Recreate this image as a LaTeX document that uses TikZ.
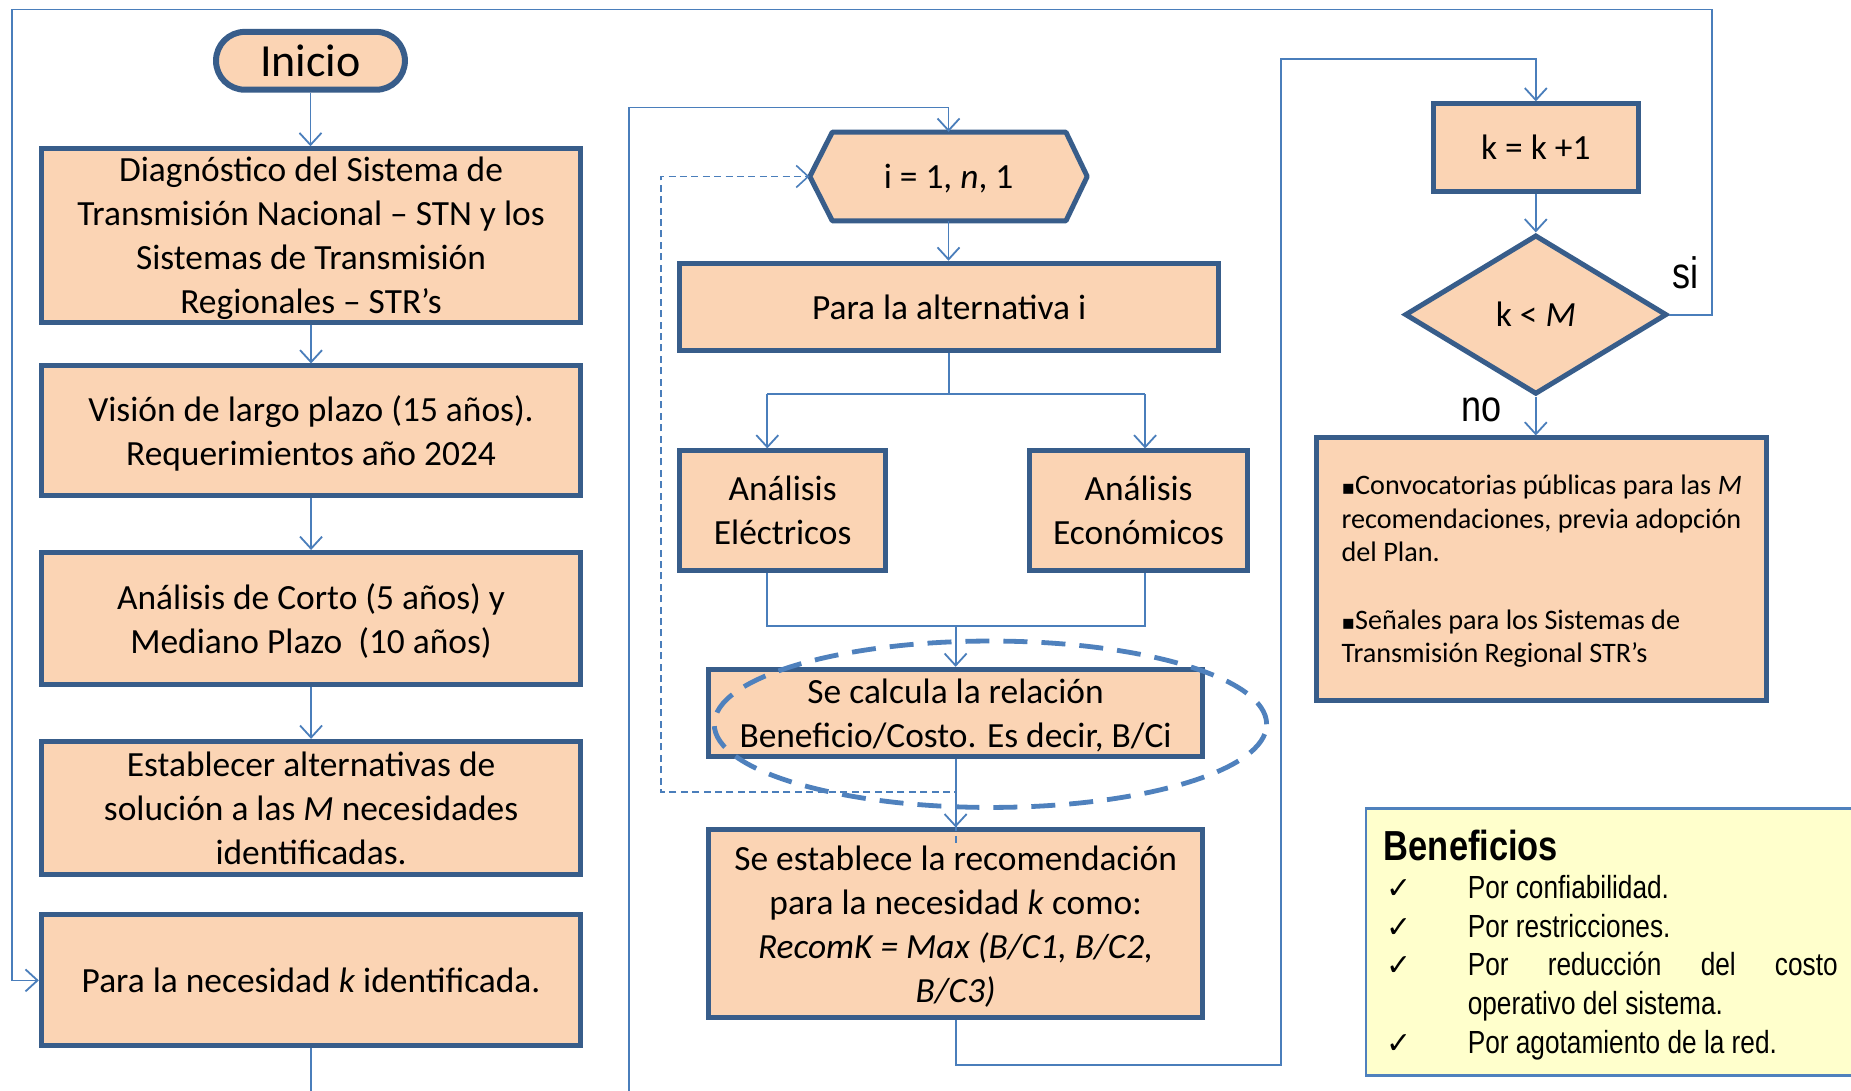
\documentclass[tikz,border=0pt]{standalone}
\usepackage{fontspec}
\setmainfont{Carlito}
\newfontfamily\narrowfont[FakeStretch=0.82]{Liberation Sans}
\newfontfamily\symfont{DejaVu Sans}
\usetikzlibrary{arrows.meta,shapes.geometric}
\definecolor{boxfill}{HTML}{FBD4B4}
\definecolor{boxline}{HTML}{385D8A}
\definecolor{lnkcol}{HTML}{4A7EBB}
\definecolor{ellcol}{HTML}{4F81BD}
\definecolor{benfill}{HTML}{FFFFCC}
\def\pxu{0.59025pt}
\tikzset{
  sz/.style 2 args={minimum width=#1*\pxu, minimum height=#2*\pxu},
  box/.style={draw=boxline, line width=2.5pt, fill=boxfill, inner sep=0pt, align=center,
              text depth=0pt, font=\fontsize{17.7}{22}\selectfont},
  ghost/.style={inner sep=0pt, align=center, text depth=0pt, font=\fontsize{17.7}{22}\selectfont},
  shapeline/.style={draw=boxline, line width=2.5pt, fill=boxfill, line join=round},
  lnk/.style={draw=lnkcol, line width=0.9pt},
  arr/.style={lnk, -{Straight Barb[length=6pt,width=11pt]}},
  dashlnk/.style={draw=lnkcol, line width=0.8pt, dash pattern=on 3.5pt off 2.2pt,
                  -{Straight Barb[length=6pt,width=11pt]}},
  lbl/.style={inner sep=0pt, font=\narrowfont\fontsize{22}{26}\selectfont},
  bentxt/.style={inner sep=0pt, anchor=base west, font=\narrowfont\fontsize{16}{19}\selectfont},
  benchk/.style={inner sep=0pt, anchor=base west, font=\symfont\fontsize{15}{18}\selectfont},
}
\newcommand\sqbul{{\symfont\fontsize{10}{12}\selectfont ▪}}
\begin{document}
\begin{tikzpicture}[x=0.59025pt,y=-0.59025pt]
\useasboundingbox (0,0) rectangle (1568,924);
\fill[white] (0,0) rectangle (1568,924);

% ---------- left column ----------
\node[draw=boxline, line width=3pt, fill=boxfill, rounded corners=14.4pt, inner sep=0pt,
      sz={160}{49}, font=\fontsize{23}{27}\selectfont] (inicio) at (263,51.5) {Inicio};
\node[box, sz={457}{147}] (b1) at (263.5,199.5)
  {Diagnóstico del Sistema de\\Transmisión Nacional – STN y los\\Sistemas de Transmisión\\Regionales – STR’s};
\node[box, sz={457}{110}] (b2) at (263.5,365)
  {Visión de largo plazo (15 años).\\Requerimientos año 2024};
\node[box, sz={457}{112}] (b3) at (263.5,524)
  {Análisis de Corto (5 años) y\\Mediano Plazo\ \ (10 años)};
\node[box, sz={457}{113}] (b4) at (263.5,684.5)
  {Establecer alternativas de\\solución a las \textit{M} necesidades\\identificadas.};
\node[box, sz={457}{111}] (b5) at (263.5,830.5)
  {Para la necesidad \textit{k} identificada.};

% ---------- middle column ----------
\path[shapeline] (686,149.5) -- (705,112) -- (903,112) -- (921,149.5) -- (903,187) -- (705,187) -- cycle;
\node[ghost, sz={235}{75}] (hex) at (803.5,149.5) {i = 1, \textit{n}, 1};
\node[box, sz={456}{74}] (pa) at (804,260) {Para la alternativa i};
\node[box, sz={174}{101}] (ae) at (663,432.5) {Análisis\\Eléctricos};
\node[box, sz={185}{101}] (aec) at (964.5,432.5) {Análisis\\Económicos};
\node[box, sz={419}{74}] (calc) at (809.5,604)
  {Se calcula la relación\\Beneficio/Costo. Es decir, B/Ci};
\node[box, sz={419}{159}] (est) at (809.5,782.5)
  {Se establece la recomendación\\para la necesidad \textit{k} como:\\\textit{RecomK = Max (B/C1, B/C2,}\\\textit{B/C3)}};

% ---------- right column ----------
\node[box, sz={174}{74}] (kk) at (1301,125) {k = k +1};
\node[box, diamond, sz={222}{135}] (dia) at (1301,266.5) {k < \textit{M}};
\node[box, sz={381}{222}, align=left, font=\fontsize{14.1}{16.8}\selectfont] (fin) at (1306,482)
  {\sqbul Convocatorias públicas para las \textit{M}\\
   recomendaciones, previa adopción\\
   del Plan.\\[16.8pt]
   \sqbul Señales para los Sistemas de\\
   Transmisión Regional STR’s};
\node[lbl] (si) at (1428,231) {si};
\node[lbl] (no) at (1255,347) {no};

% ---------- Beneficios ----------
\node[draw=ellcol, line width=1.2pt, fill=benfill, sz={440}{226}, anchor=north west, inner sep=0pt] (ben) at (1156,684) {};
\node[inner sep=0pt, anchor=base west, font=\narrowfont\bfseries\fontsize{21}{25}\selectfont] (bt) at (1172,729) {Beneficios};
\node[benchk] (c1) at (1174,761) {✓};
\node[bentxt] (t1) at (1243,761) {Por confiabilidad.};
\node[benchk] (c2) at (1174,794) {✓};
\node[bentxt] (t2) at (1243,794) {Por restricciones.};
\node[benchk] (c3) at (1174,826) {✓};
\node[bentxt] (t3) at (1243,826) {\makebox[185pt][s]{Por reducción del costo}};
\node[bentxt] (t3b) at (1243,859) {operativo del sistema.};
\node[benchk] (c4) at (1174,892) {✓};
\node[bentxt] (t4) at (1243,892) {Por agotamiento de la red.};

% ---------- connectors ----------
\draw[arr] (inicio.south) -- (inicio.south |- b1.north);
\draw[arr] (b1.south) -- (b2.north);
\draw[arr] (b2.south) -- (b3.north);
\draw[arr] (b3.south) -- (b4.north);
\coordinate (b5end) at (263.5,924);
\draw[lnk] (b5.south) -- (b5end);

\coordinate (lbot) at (533,924);
\coordinate (ltop) at (533,91);
\draw[arr] (lbot) -- (ltop) -| (hex.north);
\draw[arr] (hex.south) -- (hex.south |- pa.north);
\coordinate (jl) at (650,334);
\coordinate (jr) at (970,334);
\draw[lnk] (pa.south) -- (pa.south |- jl);
\draw[lnk] (jl) -- (jr);
\draw[arr] (jl) -- (jl |- ae.north);
\draw[arr] (jr) -- (jr |- aec.north);
\coordinate (ml) at (650,530);
\coordinate (mr) at (970,530);
\draw[lnk] (ml |- ae.south) -- (ml) -- (mr) -- (mr |- aec.south);
\draw[arr] (calc.north |- ml) -- (calc.north);
\draw[arr] (calc.south) -- (est.north);
\coordinate (d0) at (810,714);
\coordinate (d1) at (560,671);
\draw[dashlnk] (d0) |- (d1) |- (hex.west);

\coordinate (r1) at (1085,902);
\coordinate (r2) at (1085,50);
\draw[arr] (est.south) |- (r1) -- (r2) -| (kk.north);
\draw[arr] (kk.south) -- (dia.north);
\draw[arr] (dia.south) -- (dia.south |- fin.north);
\coordinate (s1) at (1450,8);
\coordinate (s2) at (10,8);
\draw[arr] (dia.east) -| (s1) -- (s2) |- (b5.west);

% dashed ellipse
\draw[ellcol, line width=2.4pt, dash pattern=on 12pt off 7pt] (839,613.5) ellipse [x radius=138.1pt, y radius=41.6pt];
\end{tikzpicture}
\end{document}
